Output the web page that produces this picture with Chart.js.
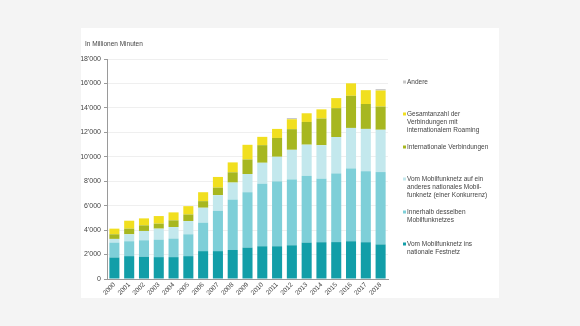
<!DOCTYPE html>
<html>
<head>
<meta charset="utf-8">
<script src="https://cdn.jsdelivr.net/npm/chart.js@4/dist/chart.umd.min.js"></script>
<style>
  html, body { margin: 0; padding: 0; background: #f4f4f4; }
  #wrap { width: 580px; height: 326px; position: relative; }
</style>
</head>
<body>
<div id="wrap"><canvas id="minutesChart" width="580" height="326"></canvas></div>
<script>
var years = ['2000','2001','2002','2003','2004','2005','2006','2007','2008','2009',
             '2010','2011','2012','2013','2014','2015','2016','2017','2018'];

// Millionen Minuten, von unten nach oben gestapelt
var festnetz     = [1760,1870,1820,1790,1790,1870,2280,2280,2380,2570,2680,2680,2760,2980,3010,3020,3090,3010,2830];
var innerhalb    = [1220,1220,1350,1430,1520,1790,2330,3300,4120,4530,5120,5310,5390,5460,5200,5620,5960,5810,5920];
var andereNetz   = [300,570,760,900,940,1080,1220,1280,1390,1490,1710,2010,2420,2550,2740,2980,3310,3460,3460];
var international= [380,460,460,410,550,540,540,620,840,1190,1440,1540,1690,1860,2180,2360,2630,2040,1900];
var roaming      = [460,650,570,620,650,680,730,870,810,1200,680,740,810,710,750,820,1020,1130,1310];
var andere       = [0,0,0,0,0,0,0,0,0,0,0,0,100,0,0,0,0,0,120];

var seriesLabels = [
  ['Vom Mobilfunknetz ins', 'nationale Festnetz'],
  ['Innerhalb desselben', 'Mobilfunknetzes'],
  ['Vom Mobilfunknetz auf ein', 'anderes nationales Mobil-', 'funknetz (einer Konkurrenz)'],
  ['Internationale Verbindungen'],
  ['Gesamtanzahl der', 'Verbindungen mit', 'internationalem Roaming'],
  ['Andere']
];
var seriesColors = ['#129ea8', '#7ecfd8', '#c3e8ed', '#a7b720', '#f1df1f', '#c8c8c8'];
var yTicks = [0, 2000, 4000, 6000, 8000, 10000, 12000, 14000, 16000, 18000];
var unitLabel = 'In Millionen Minuten';

var seriesData = [festnetz, innerhalb, andereNetz, international, roaming, andere];
var datasets = seriesData.map(function (d, i) {
  return {
    label: seriesLabels[i].join(' '),
    data: d,
    backgroundColor: seriesColors[i],
    borderWidth: 0,
    categoryPercentage: 1.0,
    barPercentage: 0.68
  };
});

function fmt(v) {
  return String(v).replace(/\B(?=(\d{3})+(?!\d))/g, "'");
}

// weisses Feld, Einheit oben links und Legende rechts
var panelPlugin = {
  id: 'panel',
  beforeDraw: function (chart) {
    var ctx = chart.ctx;
    ctx.save();
    ctx.fillStyle = '#ffffff';
    ctx.fillRect(81, 28, 418, 270);
    ctx.restore();
  },
  afterDraw: function (chart) {
    var ctx = chart.ctx;
    ctx.save();
    ctx.fillStyle = '#444';
    ctx.font = '6.5px "Liberation Sans", Arial, sans-serif';
    ctx.textBaseline = 'middle';
    ctx.fillText(unitLabel, 85, 44);

    var tops = [244, 212, 179, 147, 114, 82];
    for (var i = 0; i < seriesLabels.length; i++) {
      var y = tops[i];
      ctx.fillStyle = seriesColors[i];
      ctx.fillRect(403, y - 1.5, 3, 3);
      ctx.fillStyle = '#444';
      for (var k = 0; k < seriesLabels[i].length; k++) {
        ctx.fillText(seriesLabels[i][k], 407, y + k * 8);
      }
    }
    ctx.restore();
  }
};

var ctx = document.getElementById('minutesChart').getContext('2d');
new Chart(ctx, {
  type: 'bar',
  data: { labels: years, datasets: datasets },
  options: {
    responsive: false,
    animation: false,
    layout: { padding: { left: 81, right: 192, top: 59, bottom: 24 } },
    plugins: { legend: { display: false }, tooltip: { enabled: false } },
    scales: {
      x: {
        stacked: true,
        grid: { display: false, drawTicks: false },
        border: { display: true, color: '#9a9a9a' },
        ticks: {
          color: '#444',
          font: { size: 6.5, family: '"Liberation Sans", Arial, sans-serif' },
          autoSkip: false,
          minRotation: 45,
          maxRotation: 45,
          padding: 2
        },
        afterFit: function (s) { s.height = 23; }
      },
      y: {
        stacked: true,
        min: 0,
        max: 18000,
        afterBuildTicks: function (s) {
          s.ticks = yTicks.map(function (v) { return { value: v }; });
        },
        grid: { color: '#efefef', tickColor: '#9a9a9a', tickLength: 3, drawTicks: true },
        border: { display: true, color: '#9a9a9a' },
        ticks: {
          color: '#444',
          font: { size: 7, family: '"Liberation Sans", Arial, sans-serif' },
          padding: 3,
          callback: function (v) { return fmt(v); }
        },
        afterFit: function (s) { s.width = 26; }
      }
    }
  },
  plugins: [panelPlugin]
});
</script>
</body>
</html>
